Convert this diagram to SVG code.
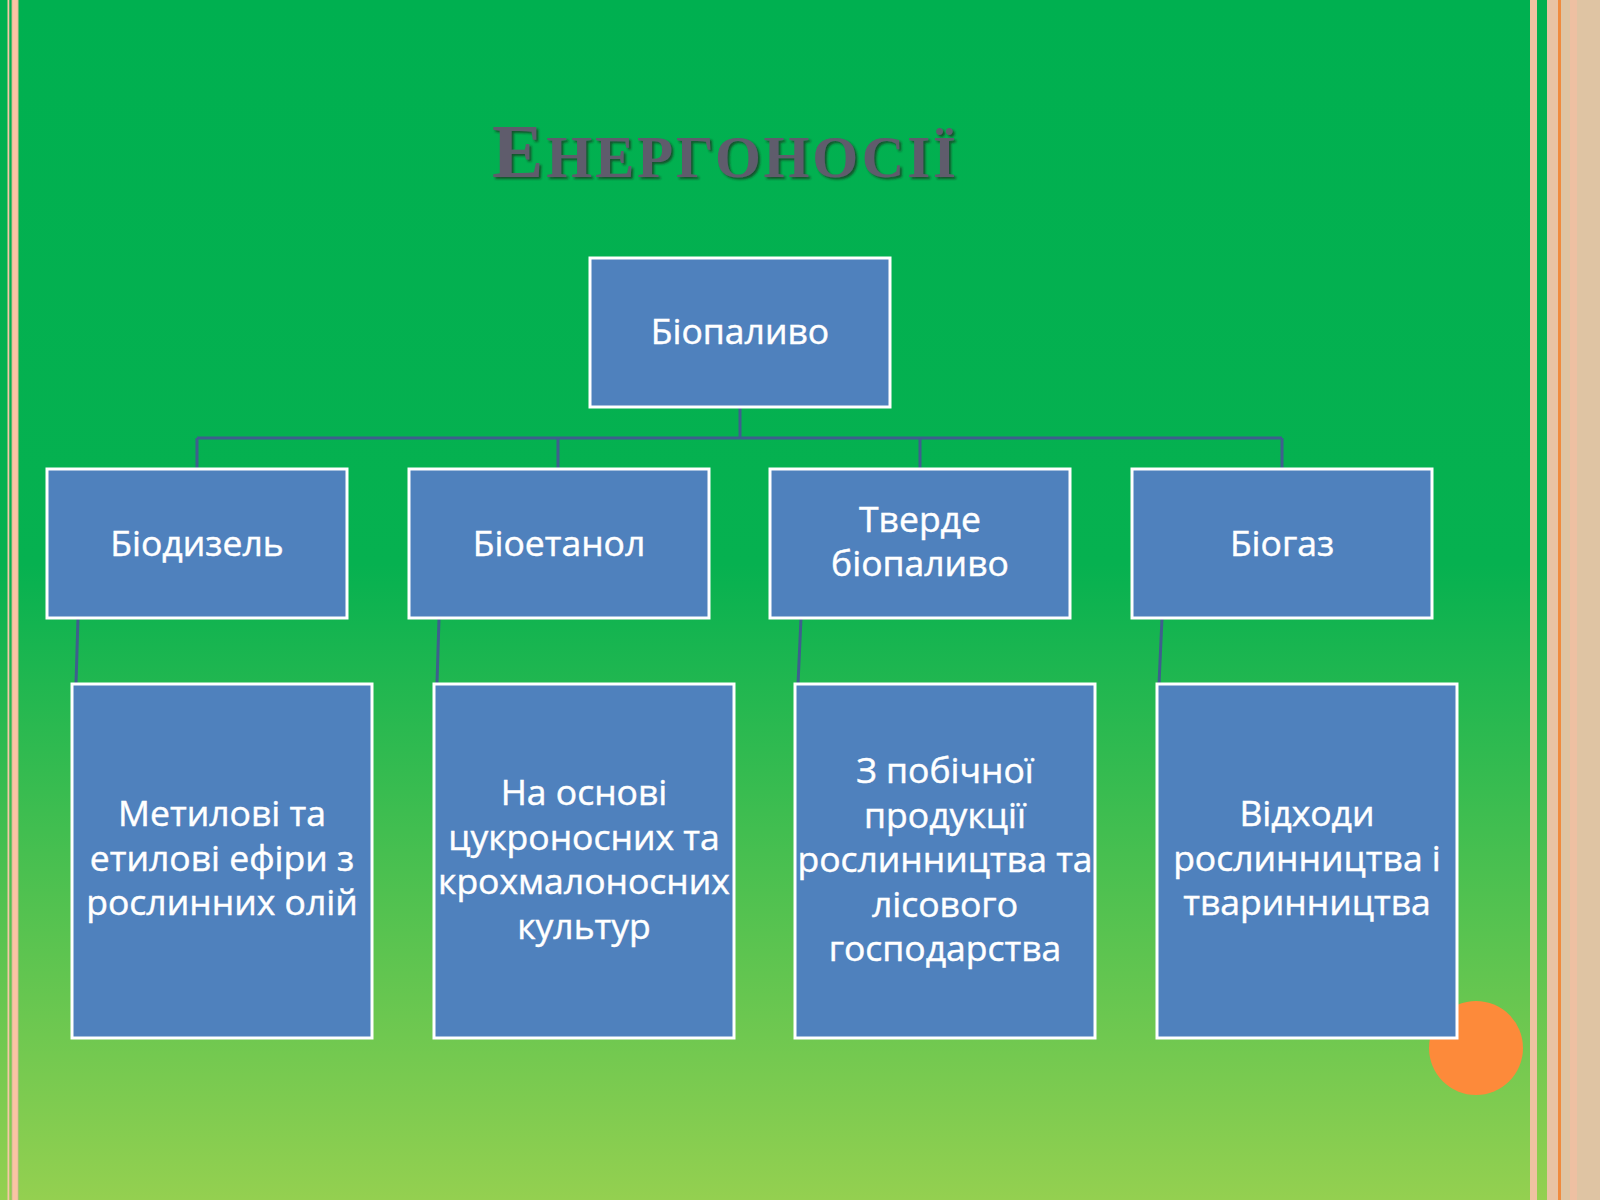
<svg xmlns="http://www.w3.org/2000/svg" width="1600" height="1200" viewBox="0 0 1600 1200">
<defs>
<linearGradient id="bg" x1="0" y1="0" x2="0" y2="1">
<stop offset="0" stop-color="#00B050"/>
<stop offset="0.47" stop-color="#06B150"/>
<stop offset="1" stop-color="#94D050"/>
</linearGradient>
<filter id="sh" x="-5%" y="-20%" width="110%" height="140%">
<feDropShadow dx="2" dy="2" stdDeviation="1.2" flood-color="#1a2a1a" flood-opacity="0.7"/>
</filter>
</defs>
<style>
.box{fill:#4F81BD;stroke:#FFFFFF;stroke-width:3}
.lbl{font-family:"Open Sans","Liberation Sans",sans-serif;font-size:35.5px;fill:#FFFFFF;stroke:#FFFFFF;stroke-width:0.45;text-anchor:middle}
.con{fill:none;stroke:#3E5F8E;stroke-width:3}
.title{font-family:"Liberation Serif","DejaVu Serif",serif;font-weight:bold;fill:#5E5B6C}
</style>
<rect x="0" y="0" width="1600" height="1200" fill="url(#bg)"/>
<!-- left border -->
<rect x="7.5" y="0" width="1.8" height="1200" fill="#F7C6A6"/>
<rect x="12" y="0" width="6" height="1200" fill="#FAC4A4"/>
<rect x="11.5" y="0" width="0.8" height="1200" fill="#B9B68A"/>
<rect x="17.8" y="0" width="0.8" height="1200" fill="#B9B68A"/>
<!-- right border -->
<rect x="1530" y="0" width="7" height="1200" fill="#EFC2A2"/>
<rect x="1547" y="0" width="53" height="1200" fill="#DFC4A3"/>
<rect x="1547" y="0" width="11" height="1200" fill="#E9C3A3"/>
<rect x="1558" y="0" width="3" height="1200" fill="#F08B3E"/>
<rect x="1570" y="0" width="7" height="1200" fill="#EEC0A2"/>
<!-- title -->
<text class="title" x="492" y="177" textLength="464" lengthAdjust="spacing" filter="url(#sh)"><tspan font-size="77">Е</tspan><tspan font-size="59">НЕРГОНОСІЇ</tspan></text>
<!-- decorative circle -->
<circle cx="1476" cy="1048" r="47" fill="#FD8A3A"/>
<!-- connectors -->
<g id="connectors">
<path class="con" d="M740 407 V438"/>
<path class="con" d="M197 438 H1282"/>
<path class="con" d="M197 438 V469 M558 438 V469 M920 438 V469 M1282 438 V469"/>
<path class="con" d="M78 618 L76 684"/>
<path class="con" d="M439 618 L437 684"/>
<path class="con" d="M801 618 L798 684"/>
<path class="con" d="M1162 618 L1159 684"/>
</g>
<g id="biopalyvo">
<rect class="box" x="590" y="258" width="300" height="149"/>
<text class="lbl" x="740" y="344">Біопаливо</text>
</g>
<g id="biodyzel">
<rect class="box" x="47" y="469" width="300" height="149"/>
<text class="lbl" x="197" y="556">Біодизель</text>
</g>
<g id="bioetanol">
<rect class="box" x="409" y="469" width="300" height="149"/>
<text class="lbl" x="559" y="556">Біоетанол</text>
</g>
<g id="tverde">
<rect class="box" x="770" y="469" width="300" height="149"/>
<text class="lbl" x="920" y="532">Тверде</text>
<text class="lbl" x="920" y="576">біопаливо</text>
</g>
<g id="biogaz">
<rect class="box" x="1132" y="469" width="300" height="149"/>
<text class="lbl" x="1282" y="556">Біогаз</text>
</g>
<g id="efiry">
<rect class="box" x="72" y="684" width="300" height="354"/>
<text class="lbl" x="222" y="826">Метилові та</text>
<text class="lbl" x="222" y="870.5">етилові ефіри з</text>
<text class="lbl" x="222" y="915">рослинних олій</text>
</g>
<g id="kultury">
<rect class="box" x="434" y="684" width="300" height="354"/>
<text class="lbl" x="584" y="805">На основі</text>
<text class="lbl" x="584" y="849.5">цукроносних та</text>
<text class="lbl" x="584" y="894">крохмалоносних</text>
<text class="lbl" x="584" y="938.5">культур</text>
</g>
<g id="pobichna">
<rect class="box" x="795" y="684" width="300" height="354"/>
<text class="lbl" x="945" y="783">З побічної</text>
<text class="lbl" x="945" y="827.5">продукції</text>
<text class="lbl" x="945" y="872">рослинництва та</text>
<text class="lbl" x="945" y="916.5">лісового</text>
<text class="lbl" x="945" y="961">господарства</text>
</g>
<g id="vidkhody">
<rect class="box" x="1157" y="684" width="300" height="354"/>
<text class="lbl" x="1307" y="826">Відходи</text>
<text class="lbl" x="1307" y="870.5">рослинництва і</text>
<text class="lbl" x="1307" y="915">тваринництва</text>
</g>
</svg>
